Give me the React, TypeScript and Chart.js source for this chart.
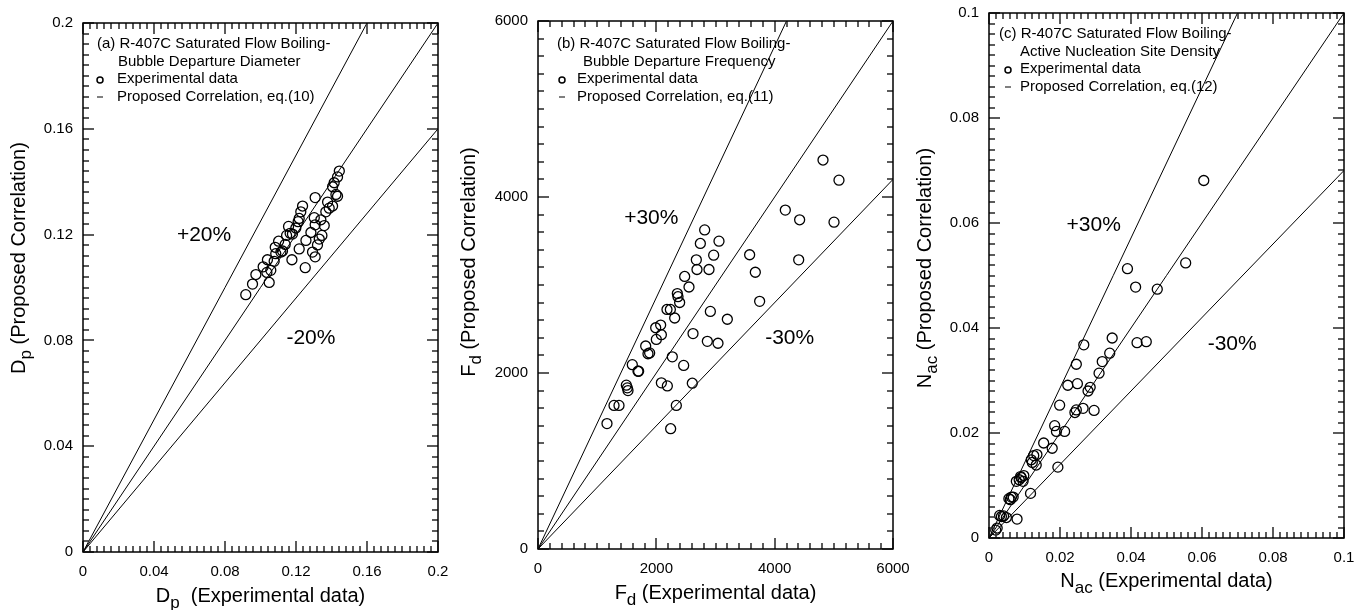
import React, { useEffect, useRef } from "react";
import { Chart, registerables } from "chart.js";
Chart.register(...registerables);

const FONT = '"Liberation Sans", Arial, Helvetica, sans-serif';

// ---------- Panel (a): bubble departure diameter ----------
const dpExperimental = [0.0917, 0.0955, 0.0974, 0.1015, 0.1039, 0.1049, 0.1036, 0.1058, 0.1077, 0.1086, 0.1083, 0.1102, 0.1115, 0.1124, 0.1139, 0.1147, 0.1158, 0.1167, 0.118, 0.1177, 0.1199, 0.1212, 0.1218, 0.1227, 0.1237, 0.1218, 0.1252, 0.1256, 0.1284, 0.1293, 0.1308, 0.1308, 0.1308, 0.1321, 0.1331, 0.134, 0.1346, 0.1359, 0.1368, 0.1378, 0.1387, 0.1406, 0.1406, 0.1415, 0.1425, 0.1434, 0.1444, 0.1434, 0.1303];
const dpProposed = [0.0973, 0.1013, 0.1049, 0.1078, 0.1105, 0.1019, 0.1057, 0.1065, 0.1099, 0.1128, 0.1152, 0.1175, 0.1134, 0.1138, 0.1163, 0.1197, 0.1231, 0.1205, 0.1202, 0.1105, 0.1225, 0.1249, 0.1261, 0.1286, 0.1308, 0.1146, 0.1075, 0.1178, 0.1208, 0.1134, 0.1116, 0.134, 0.1237, 0.1161, 0.1183, 0.1256, 0.1197, 0.1234, 0.1286, 0.1323, 0.13, 0.1308, 0.1381, 0.1396, 0.1352, 0.1418, 0.144, 0.1345, 0.1264];
const dpTickValues = [0, 0.04, 0.08, 0.12, 0.16, 0.2];
const dpTickLabels = ["0", "0.04", "0.08", "0.12", "0.16", "0.2"];
const dpDiagonal = [[0, 0], [0.2, 0.2]];
const dpPlus20 = [[0, 0], [0.16, 0.2]];
const dpMinus20 = [[0, 0], [0.2, 0.16]];

// ---------- Panel (b): bubble departure frequency ----------
const fdExperimental = [1166, 1285, 1369, 1493, 1521, 1510, 1594, 1690, 1701, 1820, 1859, 1887, 1989, 2000, 2073, 2085, 2085, 2186, 2180, 2237, 2270, 2310, 2338, 2242, 2355, 2366, 2394, 2462, 2479, 2552, 2620, 2608, 2676, 2687, 2744, 2817, 2862, 2890, 2913, 2969, 3042, 3059, 3200, 3577, 3673, 3746, 4180, 4406, 4422, 4817, 5003, 5087];
const fdProposed = [1425, 1632, 1632, 1862, 1800, 1831, 2095, 2020, 2020, 2307, 2219, 2228, 2514, 2382, 2545, 2435, 1888, 1853, 2722, 2722, 2184, 2625, 1632, 1367, 2903, 2867, 2801, 2086, 3097, 2977, 2448, 1884, 3286, 3176, 3472, 3626, 2360, 3176, 2700, 3339, 2338, 3498, 2611, 3344, 3145, 2814, 3851, 3286, 3741, 4420, 3714, 4191];
const fdTickValues = [0, 2000, 4000, 6000];
const fdTickLabels = ["0", "2000", "4000", "6000"];
const fdDiagonal = [[0, 0], [6000, 6000]];
const fdPlus30 = [[0, 0], [4200, 6000]];
const fdMinus30 = [[0, 0], [6000, 4200]];

// ---------- Panel (c): active nucleation site density ----------
const nacExperimental = [0.0019, 0.0023, 0.0035, 0.0041, 0.0049, 0.0079, 0.0056, 0.0063, 0.006, 0.0068, 0.0085, 0.0091, 0.0096, 0.0089, 0.0098, 0.0117, 0.0119, 0.0126, 0.0133, 0.0135, 0.0122, 0.0154, 0.0178, 0.0194, 0.0185, 0.019, 0.0199, 0.0213, 0.0222, 0.0242, 0.0246, 0.0246, 0.0249, 0.0265, 0.0267, 0.0279, 0.0285, 0.0296, 0.031, 0.0319, 0.034, 0.0347, 0.039, 0.0413, 0.0417, 0.0443, 0.0474, 0.0554, 0.0605, 0.003, 0.0077];
const nacProposed = [0.0015, 0.0019, 0.0041, 0.0042, 0.0039, 0.0036, 0.0075, 0.0078, 0.0073, 0.0078, 0.0111, 0.0115, 0.0108, 0.0117, 0.0119, 0.0085, 0.0149, 0.0157, 0.0139, 0.0159, 0.0144, 0.0181, 0.0171, 0.0135, 0.0214, 0.0203, 0.0253, 0.0203, 0.0291, 0.0239, 0.0244, 0.0331, 0.0294, 0.0247, 0.0368, 0.028, 0.0287, 0.0243, 0.0314, 0.0336, 0.0352, 0.0381, 0.0513, 0.0478, 0.0372, 0.0374, 0.0474, 0.0524, 0.0681, 0.0043, 0.0108];
const nacTickValues = [0, 0.02, 0.04, 0.06, 0.08, 0.1];
const nacTickLabels = ["0", "0.02", "0.04", "0.06", "0.08", "0.1"];
const nacDiagonal = [[0, 0], [0.1, 0.1]];
const nacPlus30 = [[0, 0], [0.07, 0.1]];
const nacMinus30 = [[0, 0], [0.1, 0.07]];

type Panel = {
  id: string;
  left: number; width: number;
  padTop: number; padRight: number; yAxisW: number; xAxisH: number;
  max: number; minor: number; perMajor: number;
  tickValues: number[]; tickLabels: string[];
  exp: number[]; pred: number[];
  lines: number[][][];
  legend: string[]; legX: number; legIndent: number; legMarker: number; legText: number; legTop: number;
  plusLabel: string; plusPos: [number, number];
  minusLabel: string; minusPos: [number, number];
  sym: string; sub: string; xRest: string; yRest: string;
  yTitleOff: number; yTitleCenter: number; xTitleOff: number;
};

const panels: Panel[] = [
  {
    id: "a", left: 0, width: 455, padTop: 23, padRight: 17, yAxisW: 83, xAxisH: 58,
    max: 0.2, minor: 0.004, perMajor: 10, tickValues: dpTickValues, tickLabels: dpTickLabels,
    exp: dpExperimental, pred: dpProposed, lines: [dpDiagonal, dpPlus20, dpMinus20],
    legend: ["(a) R-407C Saturated Flow Boiling-", "Bubble Departure Diameter", "Experimental data", "Proposed Correlation, eq.(10)"],
    legX: 14, legIndent: 35, legMarker: 17, legText: 34, legTop: 21,
    plusLabel: "+20%", plusPos: [0.0682, 0.1197], minusLabel: "-20%", minusPos: [0.1284, 0.0807],
    sym: "D", sub: "p", xRest: "  (Experimental data)", yRest: " (Proposed Correlation)",
    yTitleOff: 58, yTitleCenter: 258, xTitleOff: 50,
  },
  {
    id: "b", left: 455, width: 460, padTop: 21, padRight: 22, yAxisW: 83, xAxisH: 61,
    max: 6000, minor: 200, perMajor: 10, tickValues: fdTickValues, tickLabels: fdTickLabels,
    exp: fdExperimental, pred: fdProposed, lines: [fdDiagonal, fdPlus30, fdMinus30],
    legend: ["(b) R-407C Saturated Flow Boiling-", "Bubble Departure Frequency", "Experimental data", "Proposed Correlation, eq.(11)"],
    legX: 19, legIndent: 45, legMarker: 24, legText: 39, legTop: 23,
    plusLabel: "+30%", plusPos: [1915, 3758], minusLabel: "-30%", minusPos: [4254, 2391],
    sym: "F", sub: "d", xRest: " (Experimental data)", yRest: " (Proposed Correlation)",
    yTitleOff: 63, yTitleCenter: 262, xTitleOff: 50,
  },
  {
    id: "c", left: 915, width: 449, padTop: 13, padRight: 20, yAxisW: 74, xAxisH: 72,
    max: 0.1, minor: 0.002, perMajor: 10, tickValues: nacTickValues, tickLabels: nacTickLabels,
    exp: nacExperimental, pred: nacProposed, lines: [nacDiagonal, nacPlus30, nacMinus30],
    legend: ["(c) R-407C Saturated Flow Boiling-", "Active Nucleation Site Density", "Experimental data", "Proposed Correlation, eq.(12)"],
    legX: 10, legIndent: 31, legMarker: 19, legText: 31, legTop: 21,
    plusLabel: "+30%", plusPos: [0.0295, 0.0596], minusLabel: "-30%", minusPos: [0.0685, 0.0369],
    sym: "N", sub: "ac", xRest: " (Experimental data)", yRest: " (Proposed Correlation)",
    yTitleOff: 58, yTitleCenter: 268, xTitleOff: 49,
  },
];

function drawSubTitle(ctx: CanvasRenderingContext2D, sym: string, sub: string, rest: string) {
  const big = `20px ${FONT}`;
  const small = `17px ${FONT}`;
  ctx.font = big;
  const w1 = ctx.measureText(sym).width;
  const w3 = ctx.measureText(rest).width;
  ctx.font = small;
  const w2 = ctx.measureText(sub).width;
  const total = w1 + w2 + w3;
  let x = -total / 2;
  ctx.textAlign = "left";
  ctx.textBaseline = "alphabetic";
  ctx.font = big;
  ctx.fillText(sym, x, 0);
  x += w1;
  ctx.font = small;
  ctx.fillText(sub, x, 6);
  x += w2;
  ctx.font = big;
  ctx.fillText(rest, x, 0);
}

function seg(ctx: CanvasRenderingContext2D, x1: number, y1: number, x2: number, y2: number) {
  ctx.beginPath();
  ctx.moveTo(x1, y1);
  ctx.lineTo(x2, y2);
  ctx.stroke();
}

function makePlugin(p: Panel) {
  return {
    id: "decor" + p.id,
    afterDraw(chart: any) {
      const ctx: CanvasRenderingContext2D = chart.ctx;
      const area = chart.chartArea;
      const left = area.left, right = area.right, top = area.top, bottom = area.bottom;
      const xs = chart.scales.x;
      const ys = chart.scales.y;
      ctx.save();
      ctx.setLineDash([]);
      // inward minor / major ticks on all four sides
      ctx.strokeStyle = "#333333";
      ctx.lineWidth = 1.6;
      const n = Math.round(p.max / p.minor);
      for (let i = 0; i <= n; i++) {
        const v = i * p.minor;
        const len = i % p.perMajor === 0 ? 11 : 6;
        const px = Math.round(xs.getPixelForValue(v));
        const py = Math.round(ys.getPixelForValue(v));
        seg(ctx, px, bottom, px, bottom - len);
        seg(ctx, px, top, px, top + len);
        seg(ctx, left, py, left + len, py);
        seg(ctx, right, py, right - len, py);
      }
      // frame
      ctx.strokeStyle = "#000";
      ctx.lineWidth = 1.5;
      ctx.strokeRect(left, top, right - left, bottom - top);

      ctx.fillStyle = "#000";
      // legend block
      ctx.font = `15px ${FONT}`;
      ctx.textAlign = "left";
      ctx.textBaseline = "middle";
      const gap = 17.5;
      const y0 = top + p.legTop;
      ctx.fillText(p.legend[0], left + p.legX, y0);
      ctx.fillText(p.legend[1], left + p.legIndent, y0 + gap);
      ctx.fillText(p.legend[2], left + p.legText, y0 + 2 * gap);
      ctx.fillText(p.legend[3], left + p.legText, y0 + 3 * gap);
      ctx.lineWidth = 1.5;
      ctx.beginPath();
      ctx.arc(left + p.legMarker, y0 + 2 * gap + 1, 3, 0, Math.PI * 2);
      ctx.stroke();
      ctx.lineWidth = 1;
      seg(ctx, left + p.legMarker - 3, y0 + 3 * gap + 0.5, left + p.legMarker + 3, y0 + 3 * gap + 0.5);

      // band labels
      ctx.font = `21px ${FONT}`;
      ctx.textAlign = "center";
      ctx.fillText(p.plusLabel, xs.getPixelForValue(p.plusPos[0]), ys.getPixelForValue(p.plusPos[1]));
      ctx.fillText(p.minusLabel, xs.getPixelForValue(p.minusPos[0]), ys.getPixelForValue(p.minusPos[1]));

      // axis titles
      ctx.save();
      ctx.translate((left + right) / 2, bottom + p.xTitleOff);
      drawSubTitle(ctx, p.sym, p.sub, p.xRest);
      ctx.restore();
      ctx.save();
      ctx.translate(left - p.yTitleOff, p.yTitleCenter);
      ctx.rotate(-Math.PI / 2);
      drawSubTitle(ctx, p.sym, p.sub, p.yRest);
      ctx.restore();

      ctx.restore();
    },
  };
}

function ScatterPanel({ p }: { p: Panel }) {
  const ref = useRef<HTMLCanvasElement>(null);
  useEffect(() => {
    const canvas = ref.current;
    if (!canvas) return;
    const lineSets = p.lines.map((s) => ({
      type: "line" as const,
      data: s.map(([x, y]) => ({ x, y })),
      borderColor: "#000",
      borderWidth: 1,
      pointRadius: 0,
      fill: false,
      tension: 0,
      showLine: true,
    }));
    const tickOpts = {
      color: "#000",
      font: { family: FONT, size: 15 },
      maxRotation: 0,
      autoSkip: false,
      callback: (_v: any, i: number) => p.tickLabels[i],
    };
    const chart = new Chart(canvas, {
      type: "scatter",
      data: {
        datasets: [
          ...lineSets,
          {
            type: "scatter",
            data: p.exp.map((x, i) => ({ x, y: p.pred[i] })),
            pointStyle: "circle",
            pointRadius: 5,
            borderColor: "#000",
            borderWidth: 1.3,
            backgroundColor: "rgba(0,0,0,0)",
          },
        ] as any,
      },
      options: {
        responsive: false,
        animation: false,
        events: [],
        layout: { padding: { top: p.padTop, right: p.padRight, bottom: 0, left: 0 } },
        plugins: { legend: { display: false }, tooltip: { enabled: false }, title: { display: false } },
        scales: {
          x: {
            type: "linear",
            min: 0,
            max: p.max,
            afterBuildTicks: (s: any) => { s.ticks = p.tickValues.map((v) => ({ value: v })); },
            ticks: { ...tickOpts, padding: 11 },
            grid: { display: false, drawTicks: false },
            border: { display: false },
            afterFit: (s: any) => { s.height = p.xAxisH; s.paddingLeft = 0; s.paddingRight = 0; },
          },
          y: {
            type: "linear",
            min: 0,
            max: p.max,
            afterBuildTicks: (s: any) => { s.ticks = p.tickValues.map((v) => ({ value: v })); },
            ticks: { ...tickOpts, padding: 10 },
            grid: { display: false, drawTicks: false },
            border: { display: false },
            afterFit: (s: any) => { s.width = p.yAxisW; s.paddingTop = 0; s.paddingBottom = 0; },
          },
        },
      } as any,
      plugins: [makePlugin(p)],
    });
    return () => chart.destroy();
  }, [p]);
  return (
    <canvas
      ref={ref}
      width={p.width}
      height={610}
      style={{ position: "absolute", left: p.left, top: 0, width: p.width, height: 610 }}
    />
  );
}

export default function App() {
  return (
    <div style={{ position: "absolute", left: 0, top: 0, width: 1364, height: 610, background: "#fff", overflow: "hidden" }}>
      {panels.map((p) => (
        <ScatterPanel key={p.id} p={p} />
      ))}
    </div>
  );
}
